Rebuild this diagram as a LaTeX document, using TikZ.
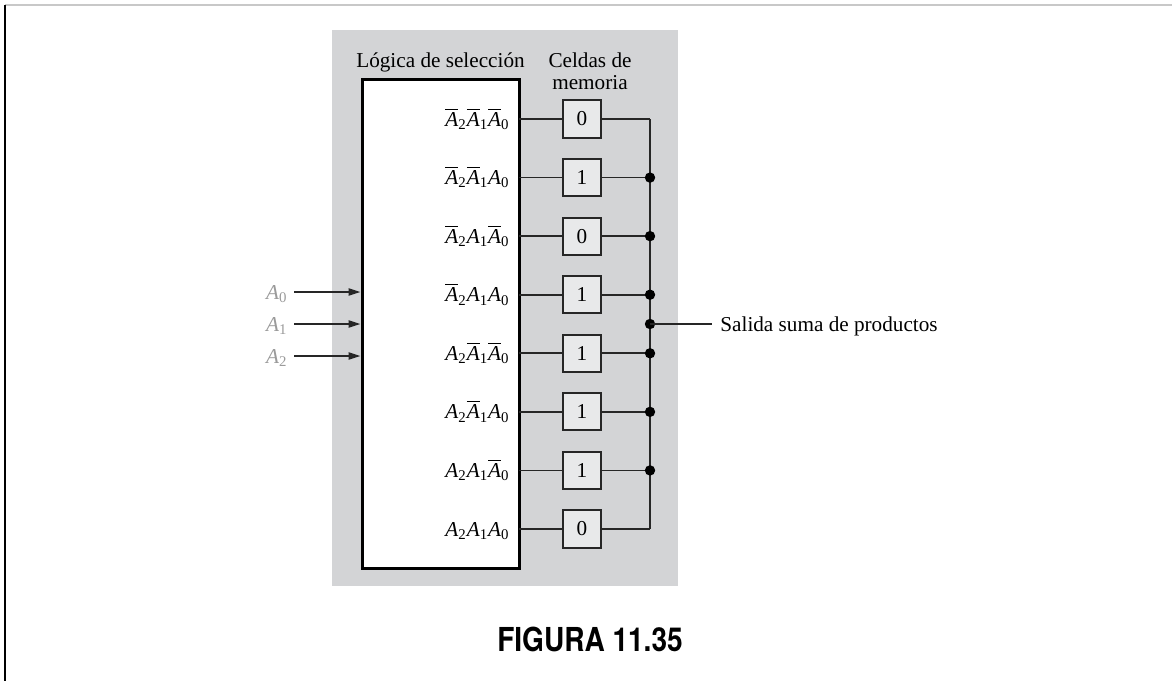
\documentclass[tikz,border=0pt]{standalone}
\usepackage{amsmath}
\usepackage{fontspec}
\setmainfont{Liberation Serif}
\newfontfamily\figfont[FakeStretch=0.85]{TeX Gyre Heros}
\usetikzlibrary{arrows.meta}
\definecolor{bggray}{HTML}{D3D4D6}
\definecolor{cellgray}{HTML}{E8E9EA}
\definecolor{lblgray}{HTML}{9A9A9A}
\definecolor{rulegray}{HTML}{C8C8C8}
\newcommand{\Ap}[1]{\textit{A}_{\text{#1}}}
\newcommand{\Aq}[1]{\overline{\textit{A}}_{\text{#1}}}
\begin{document}
\begin{tikzpicture}[x=0.5pt,y=-0.5pt,
  font=\fontsize{10.6}{12.7}\selectfont,
  wire/.style={line width=0.9pt, draw=black!85},
  cellbox/.style={draw=black!85, line width=1pt, fill=cellgray, minimum width=19pt, minimum height=18.6pt, inner sep=0pt},
  selbox/.style={draw=black, line width=1.5pt, fill=white, minimum width=78.5pt, minimum height=244.5pt, inner sep=0pt},
  rowlbl/.style={anchor=base east, inner sep=0pt},
  inlbl/.style={anchor=base east, inner sep=0pt, text=lblgray},
  arr/.style={wire, -{Triangle[length=6pt,width=3.6pt]}},
  junction/.style={circle, fill=black, inner sep=0pt, minimum size=5.2pt}
]
\useasboundingbox (0,0) rectangle (1172,681);
% page rules
\draw[rulegray, line width=0.6pt] (5,5) -- (1172,5);
\draw[black, line width=1.1pt] (5,4.5) -- (5,681);
% background panel
\fill[bggray] (332,30) rectangle (678,586);
% titles
\node[anchor=base, inner sep=0pt] (t1) at (440.5,67) {Lógica de selección};
\node[anchor=base, inner sep=0pt] (t2) at (590,67) {Celdas de};
\node[anchor=base, inner sep=0pt] (t3) at (590,89) {memoria};
% selection logic box
\node[selbox] (sel) at (440.5,323.5) {};
% rows
\foreach \i/\lab/\val in {
  0/{$\Aq{2}\Aq{1}\Aq{0}$}/0,
  1/{$\Aq{2}\Aq{1}\Ap{0}$}/1,
  2/{$\Aq{2}\Ap{1}\Aq{0}$}/0,
  3/{$\Aq{2}\Ap{1}\Ap{0}$}/1,
  4/{$\Ap{2}\Aq{1}\Aq{0}$}/1,
  5/{$\Ap{2}\Aq{1}\Ap{0}$}/1,
  6/{$\Ap{2}\Ap{1}\Aq{0}$}/1,
  7/{$\Ap{2}\Ap{1}\Ap{0}$}/0}{
  \pgfmathsetmacro{\yy}{119+58.57*\i}
  \node[cellbox] (c\i) at (582,\yy) {\val};
  \coordinate (b\i) at (650,\yy);
  \coordinate (s\i) at (519,\yy);
  \node[rowlbl] (l\i) at (510,\yy+7) {\lab};
  \draw[wire] (s\i) -- (c\i.west);
  \draw[wire] (c\i.east) -- (b\i);
}
% bus
\draw[wire] (b0) -- (b7);
\coordinate (bo) at (650,324);
\foreach \i in {1,...,6} \node[junction] at (b\i) {};
\node[junction] at (bo) {};
% output
\node[anchor=base west, inner sep=0pt] (out) at (720,331) {Salida suma de productos};
\coordinate (oe) at (712,324);
\draw[wire] (bo) -- (oe);
% inputs
\foreach \i/\yy in {0/292,1/324,2/356}{
  \node[inlbl] (a\i) at (288,\yy+7) {$\Ap{\i}$};
  \coordinate (in\i) at (294,\yy);
  \draw[arr] (in\i) -- (in\i -| sel.west);
}
% caption
\node[anchor=base, inner sep=0pt, font=\figfont\bfseries\fontsize{16.5}{19}\selectfont] (cap) at (590,651) {FIGURA 11.35};
\end{tikzpicture}
\end{document}
